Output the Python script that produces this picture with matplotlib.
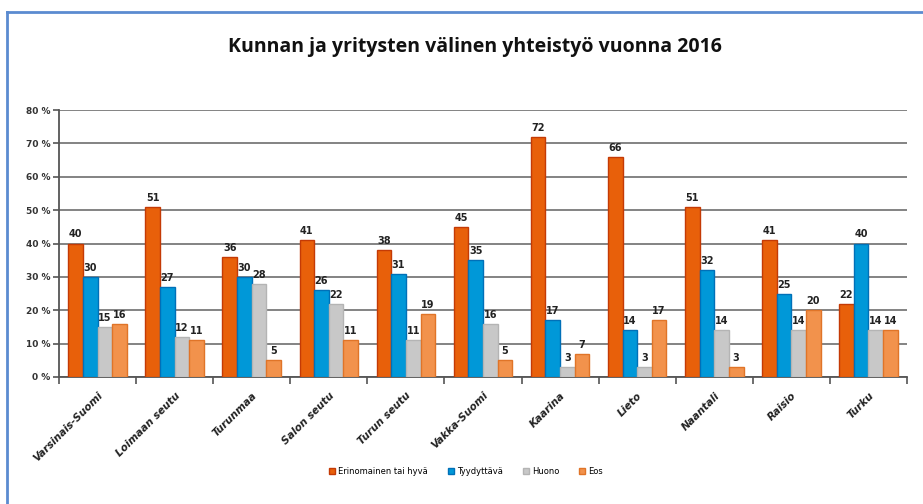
import matplotlib
matplotlib.use("Agg")
import matplotlib.pyplot as plt
import numpy as np
from matplotlib.lines import Line2D

categories = ["Varsinais-Suomi", "Loimaan seutu", "Turunmaa", "Salon seutu", "Turun seutu",
              "Vakka-Suomi", "Kaarina", "Lieto", "Naantali", "Raisio", "Turku"]
series_names = ["Erinomainen tai hyvä", "Tyydyttävä", "Huono", "Eos"]
erinomainen = [40, 51, 36, 41, 38, 45, 72, 66, 51, 41, 22]
tyydyttava = [30, 27, 30, 26, 31, 35, 17, 14, 32, 25, 40]
huono = [15, 12, 28, 22, 11, 16, 3, 3, 14, 14, 14]
eos = [16, 11, 5, 11, 19, 5, 7, 17, 3, 20, 14]
yticks = [0, 10, 20, 30, 40, 50, 60, 70, 80]
ytick_labels = ["0 %", "10 %", "20 %", "30 %", "40 %", "50 %", "60 %", "70 %", "80 %"]

fills = ["#E8600A", "#0098D8", "#C8C8C8", "#F2924C"]
edges = ["#C43A05", "#0070B8", "#B4B4B4", "#E07428"]

fig = plt.figure(figsize=(9.23, 5.04), dpi=100)
ax = fig.add_axes([59/923, 1-377/504, (907-59)/923, (377-110)/504])

x = np.arange(len(categories))
w = 0.19
data = [erinomainen, tyydyttava, huono, eos]
for i, vals in enumerate(data):
    pos = x + (i - 1.5) * w
    ax.bar(pos, vals, width=w, color=fills[i], edgecolor=edges[i], linewidth=1.0,
           zorder=3, label=series_names[i])
    for p, v in zip(pos, vals):
        ax.text(p, v + 1.2, str(v), ha="center", va="bottom", fontsize=7,
                fontweight="bold", color="#222222", zorder=4)

ax.set_ylim(0, 80)
ax.set_xlim(-0.5, len(categories) - 0.5)
ax.set_yticks(yticks)
ax.set_yticklabels(ytick_labels, fontsize=6.5, fontweight="bold", color="#333333")
ax.yaxis.grid(True, color="#7a7a7a", linewidth=1.3, zorder=0)
ax.set_axisbelow(True)
for s in ["top", "right"]:
    ax.spines[s].set_visible(False)
for s in ["left", "bottom"]:
    ax.spines[s].set_color("#555555")
    ax.spines[s].set_linewidth(1.3)
ax.tick_params(axis="y", length=4, width=1.2, color="#555555", pad=2)

# boundary ticks on x
ax.set_xticks(np.arange(-0.5, len(categories)), minor=False)
ax.set_xticklabels([])
ax.tick_params(axis="x", length=5, width=1.2, color="#555555")
for xi, name in zip(x, categories):
    ax.text(xi, -4.0, name, rotation=45, ha="right", va="top", rotation_mode="anchor",
            fontsize=7.5, fontstyle="italic", fontweight="bold", color="#222222")

fig.text(0.515, 1 - 47/504, "Kunnan ja yritysten välinen yhteistyö vuonna 2016",
         ha="center", va="center", fontsize=14, fontweight="bold", color="#111111",
         family="Open Sans")

fig.legend(loc="center", bbox_to_anchor=(0.505, 1 - 471/504), ncol=4, frameon=False,
           fontsize=6, handlelength=0.7, handleheight=0.7, handletextpad=0.4,
           columnspacing=2.4)

# blue frame
fig.add_artist(Line2D([7/923, 7/923], [0, 1 - 12/504], color="#5B8BD0", linewidth=2,
                      transform=fig.transFigure))
fig.add_artist(Line2D([7/923, 1], [1 - 12/504, 1 - 12/504], color="#5B8BD0", linewidth=2,
                      transform=fig.transFigure))

fig.savefig("out.png", dpi=100)
